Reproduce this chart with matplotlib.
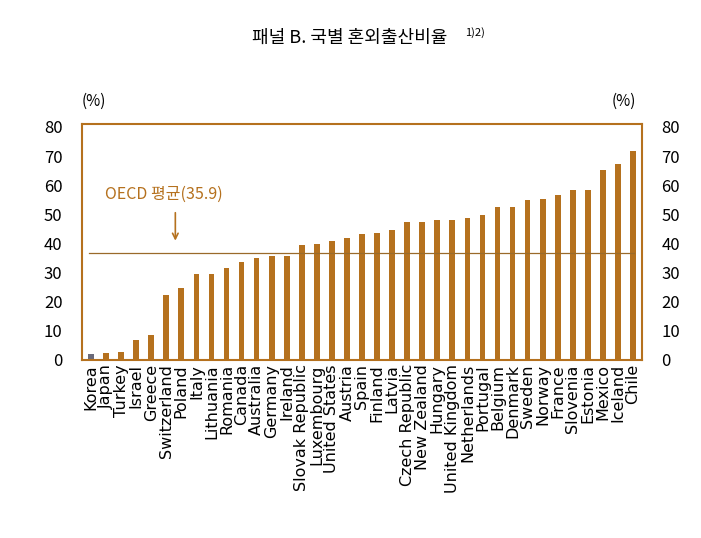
import matplotlib
matplotlib.use("Agg")
import matplotlib.pyplot as plt
from matplotlib import font_manager as fm

names = {f.name for f in fm.fontManager.ttflist}
cjk = next((n for n in ["Noto Sans CJK KR", "Noto Sans CJK JP", "Noto Sans CJK SC", "Noto Sans CJK TC"] if n in names), None)
if cjk is None:
    cjk = next((f.name for f in fm.fontManager.ttflist if "CJK" in f.name), "DejaVu Sans")
plt.rcParams['font.family'] = [cjk, 'DejaVu Sans']

countries = ["Korea","Japan","Turkey","Israel","Greece","Switzerland","Poland","Italy",
             "Lithuania","Romania","Canada","Australia","Germany","Ireland","Slovak Republic",
             "Luxembourg","United States","Austria","Spain","Finland","Latvia","Czech Republic",
             "New Zealand","Hungary","United Kingdom","Netherlands","Portugal","Belgium",
             "Denmark","Sweden","Norway","France","Slovenia","Estonia","Mexico","Iceland","Chile"]
values = [2.1,2.3,2.8,7.0,8.5,22.2,24.6,29.6,29.6,31.6,33.6,35.0,35.7,35.7,39.5,39.9,40.8,
          41.9,43.1,43.5,44.7,47.3,47.4,47.9,47.9,48.7,49.9,52.5,52.6,54.8,55.3,56.7,58.2,
          58.2,65.3,67.2,71.7]
oecd_avg_label = 35.9
oecd_line = 36.6

brown = "#B5711E"
fig = plt.figure(figsize=(7.01, 5.38), dpi=100)
ax = fig.add_axes([82/701, 1-360/538, 560/701, 236/538])
colors = ["#6A6A7A"] + [brown]*(len(values)-1)
x = range(len(values))
ax.bar(x, values, width=0.38, color=colors)
ax.set_xlim(-0.6, len(values)-0.4)
ax.set_ylim(0, 81)
ax.set_yticks(range(0, 81, 10))
ax.tick_params(axis='y', length=0, labelsize=12, pad=14)
ax.tick_params(axis='x', length=0, pad=3)
ax.set_xticks(list(x))
ax.set_xticklabels(countries, rotation=90, fontsize=11.5, fontfamily='DejaVu Sans')
for s in ax.spines.values():
    s.set_color(brown); s.set_linewidth(1.5)
ax.axhline(oecd_line, xmin=0.012, xmax=0.985, color="#9A6A2A", lw=0.9)
ax.text(0.9, 57, f"OECD 평균({oecd_avg_label})", color=brown, fontsize=11.5, va='center')
ax.annotate("", xy=(5.6, 40.0), xytext=(5.6, 51.5),
            arrowprops=dict(arrowstyle="->", color=brown, lw=1.2))
ax2 = ax.twinx()
ax2.set_ylim(0, 81)
ax2.set_yticks(range(0, 81, 10))
ax2.tick_params(axis='y', length=0, labelsize=12, pad=14)
for s in ax2.spines.values():
    s.set_visible(False)
fig.text(82/701, 1-101/538, "(%)", fontsize=11, va='center')
fig.text(612/701, 1-101/538, "(%)", fontsize=11, va='center')
fig.text(350/701, 1-38/538, "패널 B. 국별 혼외출산비율", fontsize=13, ha='center', va='center')
fig.text(465/701, 1-33/538, "1)2)", fontsize=8, ha='left', va='center')
fig.savefig("out.png", dpi=100)
